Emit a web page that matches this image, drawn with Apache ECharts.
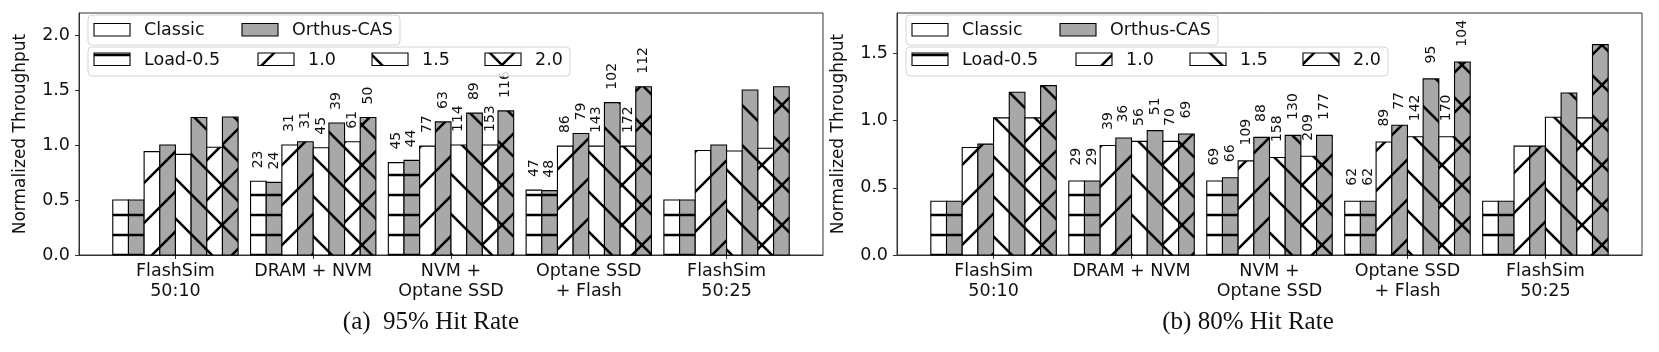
<!DOCTYPE html>
<html>
<head>
<meta charset="utf-8">
<script src="https://cdn.jsdelivr.net/npm/echarts@6/dist/echarts.min.js"></script>
<style>
  html, body { margin: 0; padding: 0; background: #fff; }
  #chart { width: 1659px; height: 352px; }
</style>
</head>
<body>
<div id="chart"></div>
<script>
// groups on the x axis
const categories = ['FlashSim\n50:10', 'DRAM + NVM', 'NVM +\nOptane SSD', 'Optane SSD\n+ Flash', 'FlashSim\n50:25'];
const systems = ['Classic', 'Orthus-CAS'];
const loads = ['Load-0.5', '1.0', '1.5', '2.0'];

// (a) 95% hit rate, rows = groups, cols = loads
const classic95 = [
  [0.50, 0.94, 0.915, 0.98],
  [0.67, 1.00, 0.975, 1.03],
  [0.84, 0.99, 1.00, 1.00],
  [0.59, 0.99, 0.99, 0.99],
  [0.50, 0.95, 0.945, 0.97]
];
const orthus95 = [
  [0.50, 1.00, 1.25, 1.255],
  [0.66, 1.03, 1.20, 1.25],
  [0.86, 1.21, 1.29, 1.31],
  [0.585, 1.105, 1.385, 1.53],
  [0.50, 1.00, 1.50, 1.53]
];
// numbers over the bars, order C0.5 O0.5 C1.0 O1.0 C1.5 O1.5 C2.0 O2.0
const labels95 = [
  [],
  [23, 24, 31, 31, 45, 39, 61, 50],
  [45, 44, 77, 63, 114, 89, 153, 116],
  [47, 48, 86, 79, 143, 102, 172, 112],
  []
];

// (b) 80% hit rate
const classic80 = [
  [0.40, 0.80, 1.02, 1.02],
  [0.55, 0.815, 0.845, 0.845],
  [0.55, 0.70, 0.725, 0.735],
  [0.40, 0.84, 0.88, 0.88],
  [0.40, 0.81, 1.025, 1.02]
];
const orthus80 = [
  [0.40, 0.825, 1.21, 1.26],
  [0.55, 0.87, 0.925, 0.90],
  [0.575, 0.875, 0.89, 0.89],
  [0.40, 0.965, 1.31, 1.435],
  [0.40, 0.81, 1.205, 1.565]
];
const labels80 = [
  [],
  [29, 29, 39, 36, 56, 51, 70, 69],
  [69, 66, 109, 88, 158, 130, 209, 177],
  [62, 62, 89, 77, 142, 95, 170, 104],
  []
];

const yTicks95 = [0, 0.5, 1.0, 1.5, 2.0];
const yTicks80 = [0, 0.5, 1.0, 1.5];

const BW = 0.1137;
const FONT = 'DejaVu Sans';
const GRAY = '#a8a8a8';

// hatch tiles, aligned to the canvas like matplotlib does with the figure
function makeTile(bg, hatch) {
  const c = document.createElement('canvas');
  c.width = 40; c.height = 40;
  const g = c.getContext('2d');
  g.fillStyle = bg;
  g.fillRect(0, 0, 40, 40);
  g.strokeStyle = '#000';
  g.lineWidth = 2.6;
  g.beginPath();
  if (hatch === '-') {
    [15, 35].forEach(y => { g.moveTo(-5, y); g.lineTo(45, y); });
  }
  if (hatch === '/' || hatch === 'x') {
    [-33, 7, 47, 87].forEach(k => { g.moveTo(k + 10, -10); g.lineTo(k - 50, 50); });
  }
  if (hatch === '\\' || hatch === 'x') {
    [-43, -3, 37, 77].forEach(k => { g.moveTo(k - 10, -10); g.lineTo(k + 50, 50); });
  }
  g.stroke();
  return { image: c, repeat: 'repeat' };
}
const hatches = ['-', '/', '\\', 'x'];
const fills = ['#ffffff', GRAY];
const patterns = fills.map(bg => hatches.map(h => makeTile(bg, h)));

function buildData(classic, orthus, labs) {
  const out = [];
  categories.forEach((c, g) => {
    loads.forEach((l, li) => {
      [classic, orthus].forEach((arr, s) => {
        const i = li * 2 + s;
        const lab = labs[g][i] || 0;
        out.push([g + (i - 3.5) * BW, arr[g][li], s, li, lab]);
      });
    });
  });
  return out;
}

function renderBar(params, api) {
  const x = api.value(0), v = api.value(1), s = api.value(2), l = api.value(3), lab = api.value(4);
  const tl = api.coord([x - BW / 2, v]);
  const br = api.coord([x + BW / 2, 0]);
  const children = [{
    type: 'rect',
    shape: { x: tl[0], y: tl[1], width: br[0] - tl[0], height: br[1] - tl[1] },
    style: { fill: patterns[s][l], stroke: '#000', lineWidth: 1.1 }
  }];
  if (lab > 0) {
    const p = api.coord([x, v + 0.1]);
    children.push({
      type: 'text',
      x: p[0], y: p[1] - 2,
      rotation: Math.PI / 2,
      style: { text: String(lab), fontSize: 14, fontFamily: FONT, fill: '#111', align: 'left', verticalAlign: 'middle' }
    });
  }
  return { type: 'group', children };
}

function xAxisFor(idx) {
  return {
    type: 'value', gridIndex: idx, min: -0.7, max: 4.7,
    splitLine: { show: false },
    axisLine: { onZero: false, lineStyle: { color: '#333' } },
    axisTick: { customValues: [0, 1, 2, 3, 4], length: 4, lineStyle: { color: '#333' } },
    axisLabel: {
      customValues: [0, 1, 2, 3, 4],
      formatter: v => categories[Math.round(v)],
      fontFamily: FONT, fontSize: 17.5, color: '#111', lineHeight: 20, margin: 6
    }
  };
}

function yAxisFor(idx, max, ticks) {
  return {
    type: 'value', gridIndex: idx, min: 0, max: max, interval: 0.5,
    name: 'Normalized Throughput', nameLocation: 'middle', nameGap: 50,
    nameTextStyle: { fontFamily: FONT, fontSize: 17, color: '#111' },
    splitLine: { show: false },
    axisLine: { show: true, onZero: false, lineStyle: { color: '#333' } },
    axisTick: { show: true, customValues: ticks, length: 4, lineStyle: { color: '#333' } },
    axisLabel: { customValues: ticks, formatter: v => v.toFixed(1), fontFamily: FONT, fontSize: 17.5, color: '#111', margin: 9 }
  };
}

// legend drawn as graphics: two framed boxes per panel
function legendFor(left) {
  const els = [];
  els.push({ type: 'rect', shape: { x: left + 9, y: 15, width: 312, height: 30, r: 4 },
    style: { fill: 'rgba(255,255,255,0.8)', stroke: '#d4d4d4', lineWidth: 1 }, z: 10 });
  els.push({ type: 'rect', shape: { x: left + 9, y: 47, width: 482, height: 29, r: 4 },
    style: { fill: 'rgba(255,255,255,0.8)', stroke: '#d4d4d4', lineWidth: 1 }, z: 10 });
  const row1 = [[15, 65], [163, 213]];
  systems.forEach((name, i) => {
    els.push({ type: 'rect', shape: { x: left + row1[i][0], y: 23.5, width: 36, height: 12.5 },
      style: { fill: fills[i], stroke: '#000', lineWidth: 1.1 }, z: 11 });
    els.push({ type: 'text', x: left + row1[i][1], y: 30,
      style: { text: name, fontFamily: FONT, fontSize: 17.5, fill: '#111', verticalAlign: 'middle' }, z: 11 });
  });
  const row2 = [[15, 65], [179, 229], [293, 343], [406, 456]];
  loads.forEach((name, i) => {
    els.push({ type: 'rect', shape: { x: left + row2[i][0], y: 53, width: 36, height: 12.5 },
      style: { fill: patterns[0][i], stroke: '#000', lineWidth: 1.1 }, z: 11 });
    els.push({ type: 'text', x: left + row2[i][1], y: 60,
      style: { text: name, fontFamily: FONT, fontSize: 17.5, fill: '#111', verticalAlign: 'middle' }, z: 11 });
  });
  return els;
}

const captions = [
  { type: 'text', x: 431, y: 322, style: { text: '(a)  95% Hit Rate', fontFamily: 'Liberation Serif', fontSize: 25, fill: '#111', align: 'center', verticalAlign: 'middle' } },
  { type: 'text', x: 1248, y: 322, style: { text: '(b) 80% Hit Rate', fontFamily: 'Liberation Serif', fontSize: 25, fill: '#111', align: 'center', verticalAlign: 'middle' } }
];

const chart = echarts.init(document.getElementById('chart'), null, { renderer: 'canvas' });
chart.setOption({
  animation: false,
  grid: [
    { left: 79, top: 13, width: 744, height: 242, show: true, borderColor: '#333', borderWidth: 1 },
    { left: 897, top: 13, width: 745, height: 242, show: true, borderColor: '#333', borderWidth: 1 }
  ],
  xAxis: [xAxisFor(0), xAxisFor(1)],
  yAxis: [yAxisFor(0, 2.2, yTicks95), yAxisFor(1, 1.8, yTicks80)],
  series: [
    { type: 'custom', xAxisIndex: 0, yAxisIndex: 0, renderItem: renderBar, data: buildData(classic95, orthus95, labels95) },
    { type: 'custom', xAxisIndex: 1, yAxisIndex: 1, renderItem: renderBar, data: buildData(classic80, orthus80, labels80) }
  ],
  graphic: { elements: legendFor(79).concat(legendFor(897), captions) }
});
</script>
</body>
</html>
